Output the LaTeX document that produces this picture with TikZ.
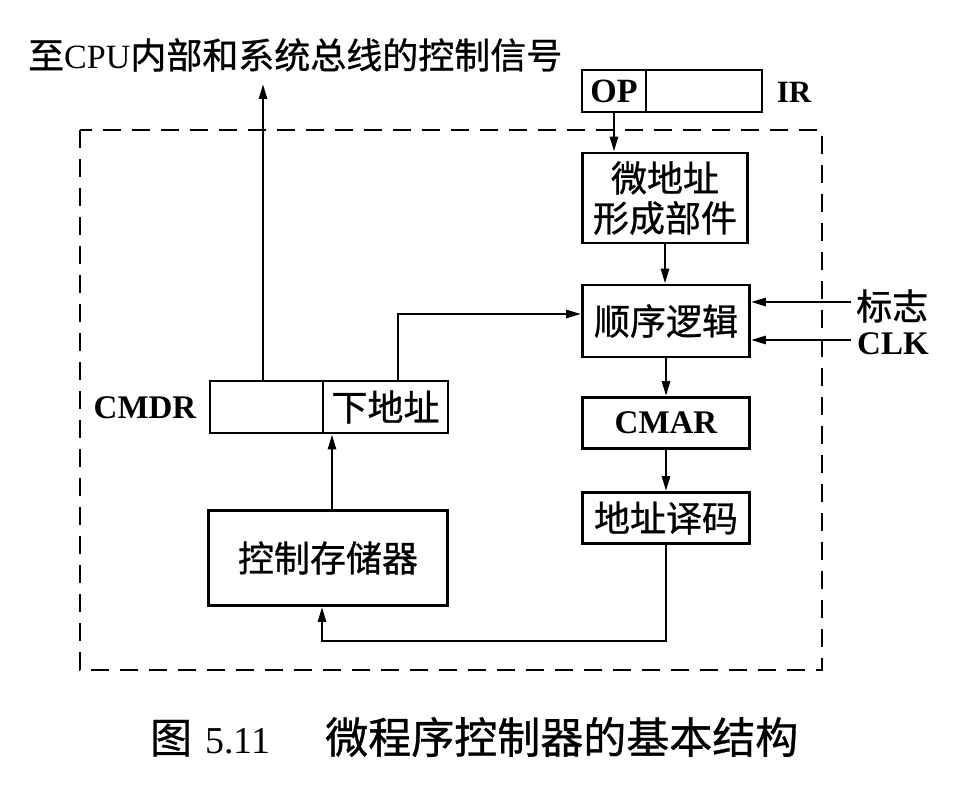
\documentclass[tikz,border=0pt]{standalone}
\usepackage{fontspec}
\setmainfont{Liberation Serif}
\newfontfamily\cjk[FakeBold=0.8]{Noto Sans CJK SC}
\usetikzlibrary{arrows.meta}
\begin{document}
\begin{tikzpicture}[x=1pt,y=-1pt,
  cj/.style={font=\cjk\fontsize{36}{40}\selectfont},
  lt/.style={font=\bfseries\fontsize{33}{36}\selectfont},
  box/.style={draw,line width=2.8pt,inner sep=0pt,align=center},
  arr/.style={line width=2.6pt,-{Triangle[length=15pt,width=8pt]}},
  dbox/.style={line width=2.8pt,dash pattern=on 18pt off 11pt}]
\useasboundingbox (0,0) rectangle (956,786);
% dashed boundary
\draw[dbox] (80,130) rectangle (822,670);
% boxes
\node[box,font=\bfseries\fontsize{34}{36}\selectfont,minimum width=64pt,minimum height=42pt] (op) at (614,91) {OP};
\node[box,minimum width=116pt,minimum height=42pt] (irr) at (704,91) {};
\node[font=\bfseries\fontsize{31}{36}\selectfont,inner sep=0pt] (ir) at (794,92) {IR};
\node[box,cj,minimum width=165pt,minimum height=90pt] (mic) at (665,198) {微地址\\形成部件};
\node[box,cj,minimum width=167pt,minimum height=72pt] (seq) at (666,321) {顺序逻辑};
\node[box,lt,minimum width=167pt,minimum height=51pt] (cmar) at (666,423) {CMAR};
\node[box,cj,minimum width=167pt,minimum height=51pt] (dec) at (666,518) {地址译码};
\node[box,cj,minimum width=239pt,minimum height=95pt] (cs) at (328,558) {控制存储器};
\node[box,minimum width=113pt,minimum height=52pt] (cmdra) at (266.5,407) {};
\node[box,cj,minimum width=125pt,minimum height=52pt] (cmdrb) at (385.5,407) {下地址};
\node[lt,inner sep=0pt] (cmdrl) at (145,408) {CMDR};
\node[cj,inner sep=0pt,anchor=west] (flag) at (856,306) {标志};
\node[lt,inner sep=0pt,anchor=west] (clk) at (857,344) {CLK};
\node[inner sep=0pt,anchor=west,font=\fontsize{34}{40}\selectfont] (top) at (28,55)
  {{\cjk\fontsize{36}{40}\selectfont 至}CPU{\cjk\fontsize{36}{40}\selectfont 内部和系统总线的控制信号}};
\node[inner sep=0pt,anchor=west,font=\fontsize{38}{42}\selectfont] (cap) at (150,737)
  {{\cjk\fontsize{42}{44}\selectfont 图}\hspace{13pt}5.11\hspace{55pt}{\cjk\fontsize{43}{44}\selectfont 微程序控制器的基本结构}};
% coordinates
\coordinate (tp) at (263,84);
\coordinate (nx) at (398,314);
\coordinate (bl) at (322,641);
\coordinate (fl) at (851,302);
\coordinate (ck) at (851,340);
% connectors
\draw[arr] (op.south) -- (op.south |- mic.north);
\draw[arr] (mic.south) -- (mic.south |- seq.north);
\draw[arr] (seq.south) -- (seq.south |- cmar.north);
\draw[arr] (cmar.south) -- (cmar.south |- dec.north);
\draw[arr] (dec.south) |- (bl) -- (bl |- cs.south);
\draw[arr] ([xshift=4pt]cs.north) -- ([xshift=4pt]cs.north |- cmdrb.south);
\draw[arr] (cmdrb.north -| nx) -- (nx) -- (nx -| seq.west);
\draw[arr] (cmdra.north -| tp) -- (tp);
\draw[arr] (fl) -- (fl -| seq.east);
\draw[arr] (ck) -- (ck -| seq.east);
\end{tikzpicture}
\end{document}
